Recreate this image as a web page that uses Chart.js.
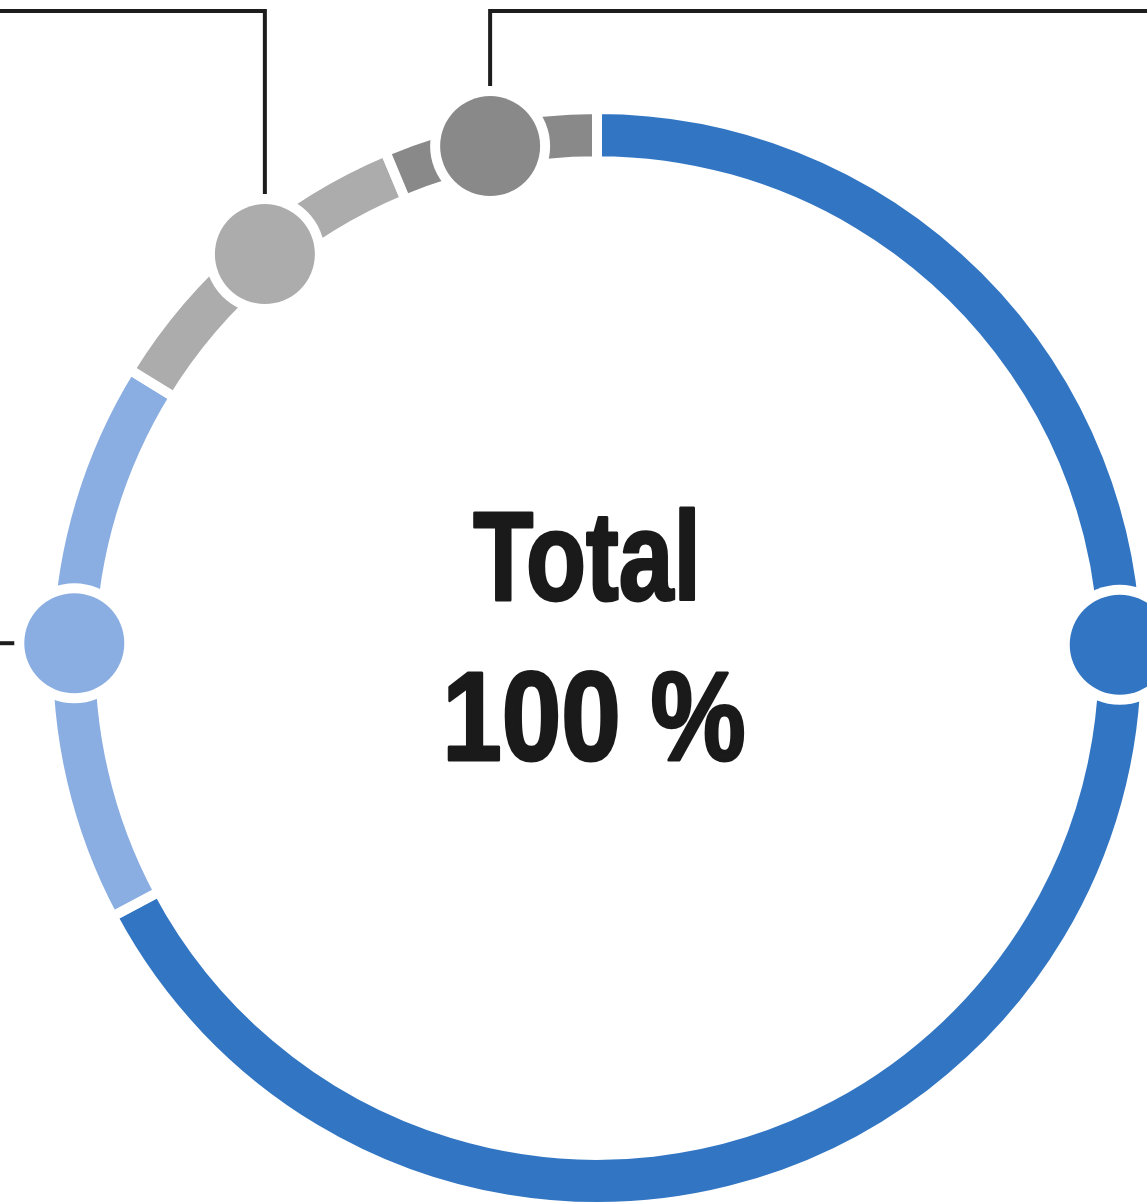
<!DOCTYPE html>
<html>
<head>
<meta charset="utf-8">
<script src="https://cdn.jsdelivr.net/npm/chart.js@4/dist/chart.umd.min.js"></script>
<style>
  html, body { margin: 0; padding: 0; background: #fff; overflow: hidden; }
  canvas { display: block; }
</style>
</head>
<body>
<canvas id="myChart" width="1152" height="1216"></canvas>
<script>
// segment shares (percent), read clockwise from 12 o'clock
const categories = ["A", "B", "C", "D"] ;
const shares = [67.2, 16.6, 9.9, 6.3] ;
const colors = ["#3276c3", "#8aaee2", "#acacac", "#898989"] ;
// where the marker dot sits along each segment (0 = start, 1 = end)
const markerPos = [0.366, 0.497, 0.53, 0.48] ;
// which way the leader line leaves each dot
const leaders = ["right", "left", "upLeft", "upRight"] ;
const centerTitle = "Total" ;
const centerValue = "100 %" ;

const markersPlugin = {
    id: 'markers',
    afterDatasetsDraw(chart) {
        const ctx = chart.ctx ;
        const arcs = chart.getDatasetMeta(0).data ;
        const W = chart.width ;
        const dotR = 50 ;
        const halo = 10 ;
        const topY = 11 ;
        arcs.forEach((arc, i) => {
            const p = arc.getProps(['x', 'y', 'startAngle', 'endAngle', 'innerRadius', 'outerRadius'], true) ;
            const a = p.startAngle + (p.endAngle - p.startAngle) * markerPos[i] ;
            const r = (p.innerRadius + p.outerRadius) / 2 ;
            const cx = p.x + Math.cos(a) * r ;
            const cy = p.y + Math.sin(a) * r ;

            ctx.save() ;
            ctx.fillStyle = '#fff' ;
            ctx.beginPath() ;
            ctx.arc(cx, cy, dotR + halo, 0, Math.PI * 2) ;
            ctx.fill() ;
            ctx.fillStyle = colors[i] ;
            ctx.beginPath() ;
            ctx.arc(cx, cy, dotR, 0, Math.PI * 2) ;
            ctx.fill() ;

            ctx.strokeStyle = '#1d1d1d' ;
            ctx.lineWidth = 4 ;
            ctx.lineCap = 'butt' ;
            ctx.lineJoin = 'miter' ;
            ctx.beginPath() ;
            if (leaders[i] === 'left') {
                ctx.moveTo(cx - dotR - halo, cy) ;
                ctx.lineTo(0, cy) ;
            } else if (leaders[i] === 'right') {
                ctx.moveTo(cx + dotR + halo, cy) ;
                ctx.lineTo(W, cy) ;
            } else if (leaders[i] === 'upLeft') {
                ctx.moveTo(cx, cy - dotR - halo) ;
                ctx.lineTo(cx, topY) ;
                ctx.lineTo(0, topY) ;
            } else if (leaders[i] === 'upRight') {
                ctx.moveTo(cx, cy - dotR - halo) ;
                ctx.lineTo(cx, topY) ;
                ctx.lineTo(W, topY) ;
            }
            ctx.stroke() ;
            ctx.restore() ;
        });

        // centre text, condensed by squeezing a bold sans, stroked to look heavier
        const c = arcs[0] ;
        ctx.save() ;
        ctx.fillStyle = '#1a1a1a' ;
        ctx.strokeStyle = '#1a1a1a' ;
        ctx.lineWidth = 3 ;
        ctx.lineJoin = 'round' ;
        ctx.textAlign = 'center' ;
        ctx.textBaseline = 'alphabetic' ;
        ctx.font = "bold 126px 'Liberation Sans', Arial, sans-serif" ;

        ctx.save() ;
        ctx.scale(0.78, 1) ;
        ctx.fillText(centerTitle, (c.x - 10) / 0.78, c.y - 58) ;
        ctx.strokeText(centerTitle, (c.x - 10) / 0.78, c.y - 58) ;
        ctx.restore() ;

        ctx.save() ;
        ctx.scale(0.85, 1) ;
        ctx.fillText(centerValue, (c.x - 3) / 0.85, c.y + 102) ;
        ctx.strokeText(centerValue, (c.x - 3) / 0.85, c.y + 102) ;
        ctx.restore() ;
        ctx.restore() ;
    }
};

const ctx = document.getElementById('myChart') ;
const myChart = new Chart(ctx, {
    type: 'doughnut',
    data: {
        labels: categories,
        datasets: [{
            data: shares,
            backgroundColor: colors,
            borderColor: '#ffffff',
            borderWidth: 10,
            hoverBorderWidth: 10,
            borderJoinStyle: 'miter'
        }]
    },
    options: {
        responsive: false,
        devicePixelRatio: 1,
        animation: false,
        cutout: '90.5%',
        layout: {
            padding: { left: 43, top: 104, right: 1, bottom: 4 }
        },
        plugins: {
            legend: { display: false },
            tooltip: { enabled: false }
        }
    },
    plugins: [markersPlugin]
});
</script>
</body>
</html>
